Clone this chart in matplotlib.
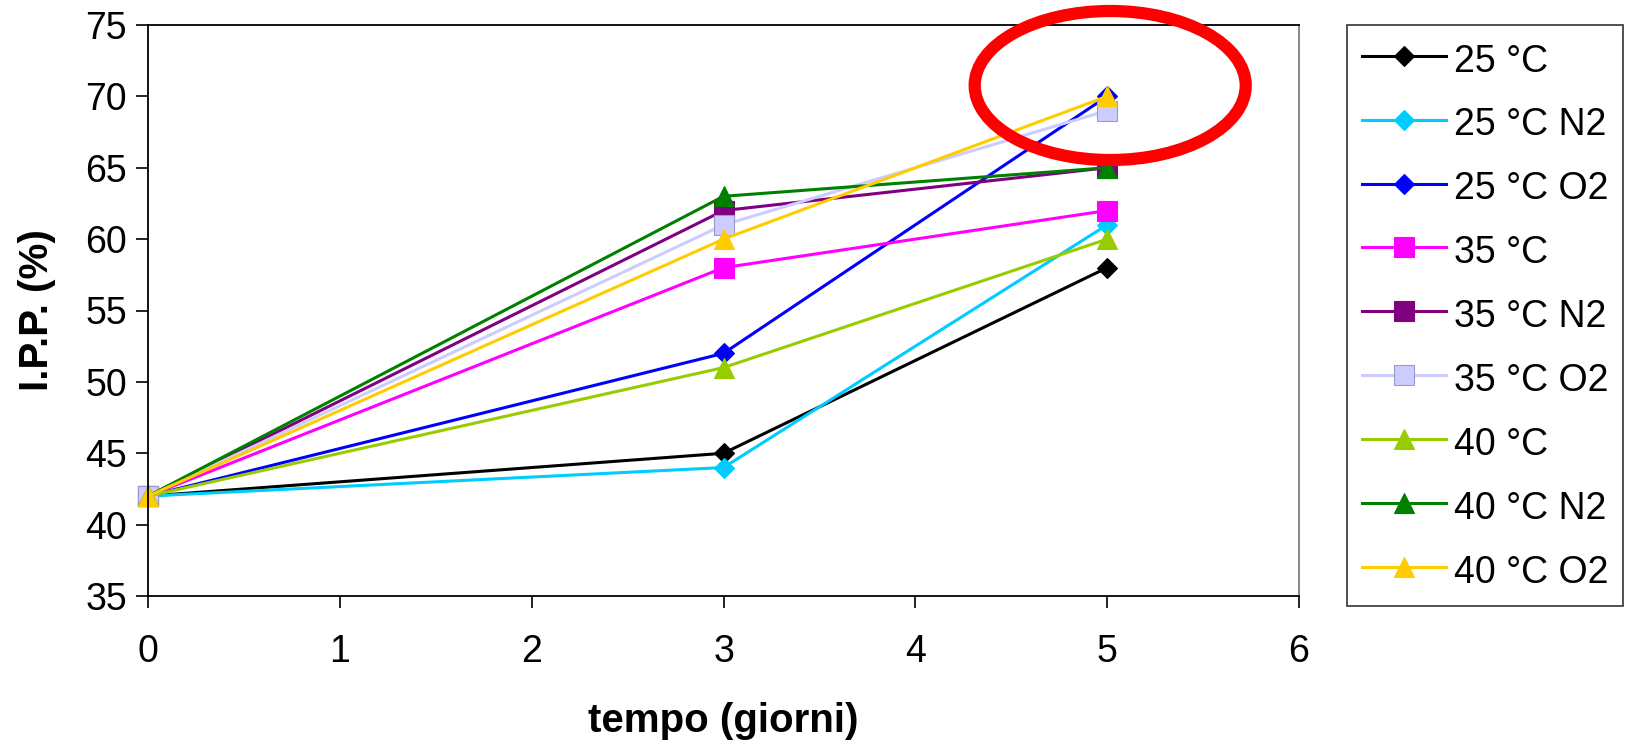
import matplotlib
matplotlib.use("Agg")
import matplotlib.pyplot as plt
from matplotlib.patches import Ellipse

plt.rcParams['font.family'] = ['Liberation Sans', 'DejaVu Sans']

# storage time (days) and I.P.P. (%) for each condition
giorni = [0, 3, 5]
series_labels = ['25 °C', '25 °C N2', '25 °C O2',
                 '35 °C', '35 °C N2', '35 °C O2',
                 '40 °C', '40 °C N2', '40 °C O2']
ipp_25 = [42, 45, 58]
ipp_25_n2 = [42, 44, 61]
ipp_25_o2 = [42, 52, 70]
ipp_35 = [42, 58, 62]
ipp_35_n2 = [42, 62, 65]
ipp_35_o2 = [42, 61, 69]
ipp_40 = [42, 51, 60]
ipp_40_n2 = [42, 63, 65]
ipp_40_o2 = [42, 60, 70]
values = [ipp_25, ipp_25_n2, ipp_25_o2, ipp_35, ipp_35_n2, ipp_35_o2,
          ipp_40, ipp_40_n2, ipp_40_o2]

colors = ['#000000', '#00CCFF', '#0000FF', '#FF00FF', '#800080',
          '#CCCCFF', '#99CC00', '#008000', '#FFCC00']
markers = ['D', 'D', 'D', 's', 's', 's', '^', '^', '^']
msizes = [10, 10, 10, 15, 15, 15, 15, 15, 15]

fig = plt.figure(figsize=(16.29, 7.5), dpi=100)
ax = fig.add_axes([0.0909, 0.2053, 0.7065, 0.7614])

for lab, vals, c, m, ms in zip(series_labels, values, colors, markers, msizes):
    edge = '#9999CC' if c == '#CCCCFF' else c
    ax.plot(giorni, vals, color=c, lw=2.2, marker=m, markersize=ms,
            markerfacecolor=c, markeredgecolor=edge, markeredgewidth=0.8,
            label=lab, clip_on=False)

ax.set_xlim(0, 6)
ax.set_ylim(35, 75)
ax.set_xticks(range(0, 7))
ax.set_yticks(range(35, 80, 5))
ax.tick_params(axis='both', direction='out', length=8.6, width=1.2,
               labelsize=27, color='black')
ax.tick_params(axis='y', pad=6.5)
ax.tick_params(axis='x', pad=19)

for side in ['left', 'bottom', 'top']:
    ax.spines[side].set_color('black')
    ax.spines[side].set_linewidth(1.3)
ax.spines['right'].set_color('#808080')
ax.spines['right'].set_linewidth(1.3)

ax.set_xlabel('tempo (giorni)', fontsize=29, fontweight='bold', labelpad=23)
ax.set_ylabel('I.P.P. (%)', fontsize=29, fontweight='bold', labelpad=21)

# red ring highlighting the day-5 results
ring = Ellipse((5.016, 70.76), width=1.413, height=10.44, fill=False,
               edgecolor='#FF0000', lw=8.8, clip_on=False, zorder=10)
ax.add_patch(ring)

leg = fig.legend(loc='upper left', bbox_to_anchor=(0.8269, 0.9667),
                 fontsize=27, frameon=True, fancybox=False,
                 handlelength=2.24, handleheight=1.17, handletextpad=0.21,
                 labelspacing=0.65, borderpad=0.4, borderaxespad=0)
leg.get_frame().set_edgecolor('black')
leg.get_frame().set_linewidth(1.2)

fig.savefig('out.png', dpi=100)
